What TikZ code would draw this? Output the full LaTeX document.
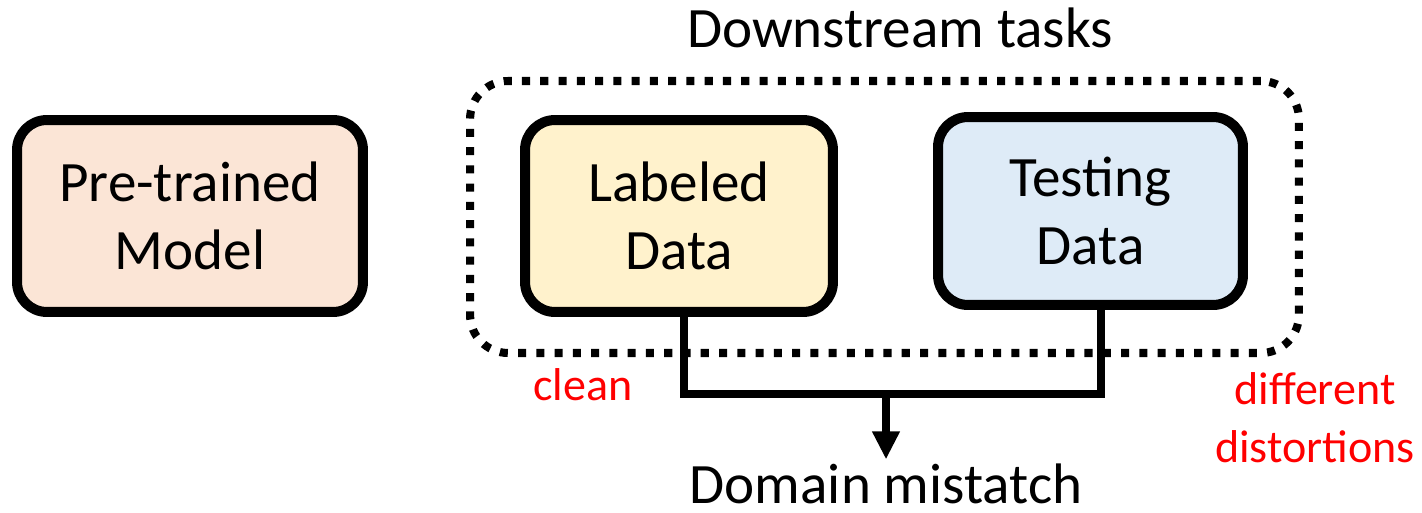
\documentclass[tikz,border=0pt]{standalone}
\usepackage{fontspec}
\setmainfont{Carlito}
\usetikzlibrary{arrows.meta, positioning}
\definecolor{cpeach}{HTML}{FBE5D6}
\definecolor{cyellow}{HTML}{FFF2CC}
\definecolor{cblue}{HTML}{DEEBF7}
\definecolor{cred}{HTML}{FF0000}
\tikzset{
  every picture/.style={line width=4.5pt},
  box/.style={draw=black, fill=#1, rounded corners=0.6cm, align=center, line width=5.7pt, inner sep=0pt, font=\fontsize{32.5}{38.7}\selectfont},
  taskframe/.style={draw=black, rounded corners=0.76cm, line width=4.6pt, dash pattern=on 4.6pt off 5.8pt, inner sep=0pt},
  link/.style={draw=black, line width=4.7pt},
  arrow/.style={-{Triangle[length=0.56cm, width=0.52cm]}, draw=black, line width=4.7pt},
  title/.style={font=\fontsize{32.5}{38.7}\selectfont, inner sep=0pt},
  note/.style={font=\fontsize{26.2}{33}\selectfont, text=cred, align=center, inner sep=0pt},
}
\begin{document}
\begin{tikzpicture}[x=0.02cm, y=-0.02cm]
  \useasboundingbox (0,0) rectangle (1422,513);
  % model and the two data sets
  \node[box=cpeach, minimum width=6.92cm, minimum height=3.84cm] (model) at (190,216) {Pre-trained\\Model};
  \node[box=cyellow, minimum width=6.16cm, minimum height=3.84cm] (lab) at (679,216) {Labeled\\Data};
  \node[box=cblue, minimum width=6.10cm, minimum height=3.76cm] (tst) at (1090.5,211) {Testing\\Data};
  % downstream frame
  \node[taskframe, minimum width=16.58cm, minimum height=5.44cm] (tasks) at (884.5,217) {};
  \node[title, above=0.51cm of tasks, xshift=0.31cm] (ttl) {Downstream tasks};
  % joining lines
  \coordinate (join) at (886,394);
  \draw[link] ([xshift=0.1cm]lab.south) |- (join) -| ([xshift=0.21cm]tst.south);
  \node[title, anchor=base] (dm) at (886,503) {Domain mistatch};
  \draw[arrow] (join) -- (dm);
  % red notes
  \node[note, anchor=base] (cln) at (583,400) {clean};
  \node[note] (dist) at (1315,418) {different\\distortions};
\end{tikzpicture}
\end{document}
